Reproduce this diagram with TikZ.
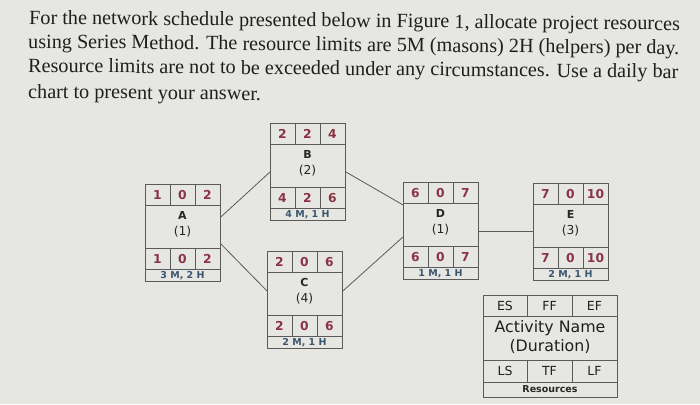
\documentclass[tikz,border=0pt]{standalone}
\usepackage{fontspec}
\setmainfont{Liberation Serif}
\newfontfamily\boxfont{DejaVu Sans}
\usetikzlibrary{calc}
\definecolor{paper}{HTML}{E6E6E2}
\definecolor{numred}{HTML}{8A3346}
\definecolor{resblue}{HTML}{3A5670}
\definecolor{edge}{HTML}{5A5A5A}
\tikzset{
  title/.style={anchor=base west, inner sep=0pt, font=\fontsize{20.2}{24}\selectfont, text=black!88, rotate=-0.55},
  frame/.style={draw=edge, line width=0.9pt},
  cellnum/.style={inner sep=0pt, font=\boxfont\bfseries\fontsize{12.3}{13}\selectfont, text=numred},
  actname/.style={inner sep=0pt, font=\boxfont\bfseries\fontsize{11}{12}\selectfont, text=black!85},
  actdur/.style={inner sep=0pt, font=\boxfont\fontsize{12.3}{14}\selectfont, text=black!85},
  restext/.style={inner sep=0pt, font=\boxfont\bfseries\fontsize{9.5}{10}\selectfont, text=resblue},
  legtext/.style={inner sep=0pt, font=\boxfont\fontsize{12.5}{14}\selectfont, text=black!88},
  link/.style={draw=edge, line width=0.8pt},
}
\begin{document}
\begin{tikzpicture}[x=1pt,y=-1pt]
\fill[paper] (0,0) rectangle (700,404);
\useasboundingbox (0,0) rectangle (700,404);

\node[title] (t1) at (29,24) {For the network schedule presented below in Figure 1, allocate project resources};
\node[title] (t2) at (28,48) {using Series Method. The resource limits are 5M (masons) 2H (helpers) per day.};
\node[title] (t3) at (28,72) {Resource limits are not to be exceeded under any circumstances. Use a daily bar};
\node[title] (t4) at (28,98) {chart to present your answer.};

% activity boxes: name / x / y / ES / FF / EF / dur / LS / TF / LF / resources
\foreach \n/\x/\y/\ta/\tb/\tc/\du/\ba/\bb/\bc/\res in {
  A/145/184/1/0/2/1/1/0/2/{3 M, 2 H},
  B/270/123/2/2/4/2/4/2/6/{4 M, 1 H},
  C/267/251/2/0/6/4/2/0/6/{2 M, 1 H},
  D/403/182/6/0/7/1/6/0/7/{1 M, 1 H},
  E/533/183/7/0/10/3/7/0/10/{2 M, 1 H}}{
  \node[frame, anchor=north west, minimum width=75pt, minimum height=97pt, inner sep=0pt] (\n) at (\x,\y) {};
  \draw[frame] (\x,\y+21) -- ++(75,0);
  \draw[frame] (\x,\y+64) -- ++(75,0);
  \draw[frame] (\x,\y+85) -- ++(75,0);
  \draw[frame] (\x+25,\y) -- ++(0,21);
  \draw[frame] (\x+50,\y) -- ++(0,21);
  \draw[frame] (\x+25,\y+64) -- ++(0,21);
  \draw[frame] (\x+50,\y+64) -- ++(0,21);
  \node[cellnum] (\n-es) at (\x+12.5,\y+11) {\ta};
  \node[cellnum] (\n-ff) at (\x+37.5,\y+11) {\tb};
  \node[cellnum] (\n-ef) at (\x+62.5,\y+11) {\tc};
  \node[actname] (\n-nm) at (\x+37.5,\y+31) {\n};
  \node[actdur] (\n-du) at (\x+37.5,\y+48) {(\du)};
  \node[cellnum] (\n-ls) at (\x+12.5,\y+75) {\ba};
  \node[cellnum] (\n-tf) at (\x+37.5,\y+75) {\bb};
  \node[cellnum] (\n-lf) at (\x+62.5,\y+75) {\bc};
  \node[restext] (\n-rs) at (\x+37.5,\y+91.5) {\res};
}

% connectors
\draw[link] ([yshift=16pt]A.east) -- (B.west);
\draw[link] ([yshift=-11pt]A.east) -- ([yshift=9pt]C.west);
\draw[link] (B.east) -- ([yshift=26pt]D.west);
\draw[link] ([yshift=9pt]C.east) -- ([yshift=-6pt]D.west);
\draw[link] (D.east) -- ([yshift=1pt]E.west);

% legend
\node[frame, anchor=north west, minimum width=134pt, minimum height=102pt, inner sep=0pt] (L) at (483,295) {};
\draw[frame] (483,316) -- (617,316);
\draw[frame] (483,360) -- (617,360);
\draw[frame] (483,382) -- (617,382);
\draw[frame] (527,295) -- (527,316);
\draw[frame] (572,295) -- (572,316);
\draw[frame] (527,360) -- (527,382);
\draw[frame] (572,360) -- (572,382);
\node[legtext] (L-es) at (505,306) {ES};
\node[legtext] (L-ff) at (549.5,306) {FF};
\node[legtext] (L-ef) at (594.5,306) {EF};
\node[legtext, font=\boxfont\fontsize{15.8}{17}\selectfont] (L-nm) at (550,328) {Activity Name};
\node[legtext, font=\boxfont\fontsize{15.8}{17}\selectfont] (L-du) at (550,347) {(Duration)};
\node[legtext] (L-ls) at (505,371) {LS};
\node[legtext] (L-tf) at (549.5,371) {TF};
\node[legtext] (L-lf) at (594.5,371) {LF};
\node[restext, text=black!85] (L-rs) at (550,389.5) {Resources};
\end{tikzpicture}
\end{document}
